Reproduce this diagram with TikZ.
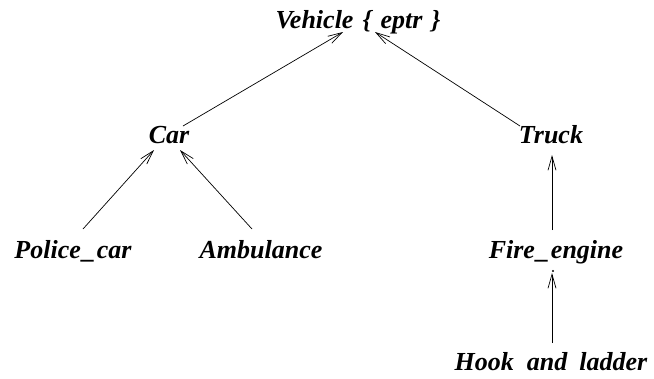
\documentclass[tikz,border=0pt]{standalone}
\usepackage{fontspec}
\setmainfont{Liberation Serif}
\usetikzlibrary{arrows.meta,calc}

\newcommand{\usc}{\kern1.5pt\_\kern1.5pt}

\tikzset{
    cls/.style={anchor=base, inner sep=1pt, font=\fontsize{26}{30}\selectfont\bfseries\itshape},
    isa/.style={line width=0.7pt, -{Straight Barb[length=14pt,width=8pt]}}
}

\begin{document}
\begin{tikzpicture}[x=1pt, y=-1pt]
    \useasboundingbox (0,0) rectangle (654,378);
    \node[cls] (vehicle) at (358,28) {Vehicle\hspace{9pt}\{\hspace{9pt}eptr\hspace{9pt}\}};
    \node[cls] (car) at (169,143) {Car};
    \node[cls] (truck) at (551,143) {Truck};
    \node[cls] (police) at (73,258) {Police\usc car};
    \node[cls] (ambulance) at (261,258) {Ambulance};
    \node[cls] (fire) at (556,258) {Fire\usc engine};
    \node[cls] (hook) at (551,370) {Hook\hspace{13pt}and\hspace{12pt}ladder};

    \draw[isa] ($(car.base)+(14,-17)$) -- ($(vehicle.base)+(-15,4)$);
    \draw[isa] ($(truck.base)+(-31,-17)$) -- ($(vehicle.base)+(17,4)$);
    \draw[isa] ($(police.base)+(10,-29)$) -- ($(car.base)+(-15,7)$);
    \draw[isa] ($(ambulance.base)+(-9,-29)$) -- ($(car.base)+(11,7)$);
    \draw[isa] ($(fire.base)+(-4,-28)$) -- ($(truck.base)+(1,12)$);
    \draw[isa] ($(hook.base)+(1,-27)$) -- ($(fire.base)+(-4,15)$);
    \fill ($(fire.base)+(-3,13)$) circle (1.2pt);
\end{tikzpicture}
\end{document}
